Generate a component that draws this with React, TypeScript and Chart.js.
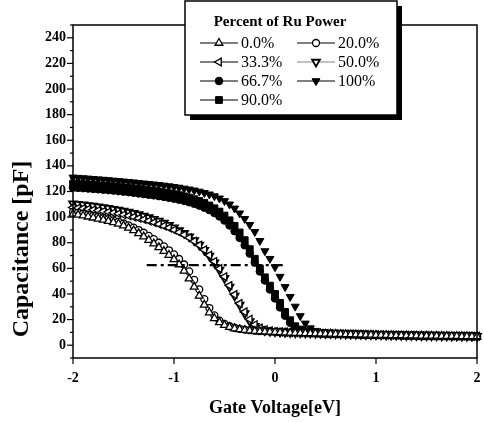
import React, { useEffect, useRef } from "react";
import { Chart, registerables } from "chart.js";

Chart.register(...registerables);

const GATE_V = [-2,-1.95,-1.9,-1.85,-1.8,-1.75,-1.7,-1.65,-1.6,-1.55,-1.5,-1.45,-1.4,-1.35,-1.3,-1.25,-1.2,-1.15,-1.1,-1.05,-1,-0.95,-0.9,-0.85,-0.8,-0.75,-0.7,-0.65,-0.6,-0.55,-0.5,-0.45,-0.4,-0.35,-0.3,-0.25,-0.2,-0.15,-0.1,-0.05,0,0.05,0.1,0.15,0.2,0.25,0.3,0.35,0.4,0.45,0.5,0.55,0.6,0.65,0.7,0.75,0.8,0.85,0.9,0.95,1,1.05,1.1,1.15,1.2,1.25,1.3,1.35,1.4,1.45,1.5,1.55,1.6,1.65,1.7,1.75,1.8,1.85,1.9,1.95,2];

const CAP_0 = [102.5,101.8,101.1,100.3,99.5,98.7,97.8,96.9,95.9,94.8,93.3,91.6,89.6,87.3,84.8,82.1,79.3,76.4,73.5,70.4,67,63,58,52,45.5,38.5,31.5,25.5,21,17.8,15.6,14.1,13,12.3,11.7,11.3,11,10.7,10.5,10.3,10.1,9.9,9.8,9.6,9.5,9.4,9.3,9.2,9.1,9.0,8.9,8.8,8.7,8.6,8.5,8.4,8.3,8.2,8.1,8.0,7.9,7.8,7.8,7.7,7.6,7.6,7.5,7.4,7.4,7.3,7.3,7.2,7.2,7.1,7.1,7.0,7.0,6.9,6.9,6.8,6.8];
const CAP_20 = [104,103.3,102.6,101.8,101,100.2,99.3,98.4,97.4,96.3,95,93.5,91.8,89.9,87.8,85.4,82.8,80,77.1,74.1,70.9,67.3,63,57.6,51,43.6,36,29,23.3,19.2,16.6,14.8,13.6,12.8,12.2,11.7,11.3,11,10.8,10.6,10.4,10.2,10.1,9.9,9.8,9.7,9.6,9.5,9.4,9.3,9.2,9.1,9.0,8.9,8.8,8.7,8.6,8.5,8.4,8.3,8.2,8.1,8.0,7.9,7.9,7.8,7.7,7.7,7.6,7.5,7.5,7.4,7.4,7.3,7.3,7.2,7.2,7.1,7.1,7.0,7.0];
const CAP_333 = [107.5,107.1,106.7,106.2,105.7,105.2,104.6,104,103.3,102.6,101.8,101,100.1,99.1,98.1,97,95.8,94.5,93.1,91.6,90,88.2,86.2,83.9,81.2,78.1,74.5,70.3,65.4,59.8,53.5,46.6,39.5,32.5,26,20.3,16,13.4,12,11.2,10.7,10.4,10.2,10,9.8,9.7,9.6,9.5,9.4,9.3,9.2,9.1,9.0,8.9,8.8,8.7,8.6,8.5,8.4,8.3,8.2,8.1,8.0,7.9,7.9,7.8,7.7,7.7,7.6,7.5,7.5,7.4,7.4,7.3,7.3,7.2,7.2,7.1,7.1,7.0,7.0];
const CAP_50 = [110.5,110.1,109.7,109.2,108.7,108.2,107.6,107,106.3,105.6,104.8,104,103.1,102.1,101,99.8,98.5,97,95.4,93.7,91.8,89.7,87.4,84.8,81.8,78.3,74.3,69.7,64.5,58.7,52.3,45.5,38.5,31.5,24.8,18.6,14.8,12.7,11.6,11,10.6,10.3,10.1,9.9,9.8,9.7,9.6,9.5,9.4,9.3,9.2,9.1,9.0,8.9,8.8,8.7,8.6,8.5,8.4,8.3,8.2,8.1,8.0,7.9,7.9,7.8,7.7,7.7,7.6,7.5,7.5,7.4,7.4,7.3,7.3,7.2,7.2,7.1,7.1,7.0,7.0];
const CAP_667 = [123,122.8,122.6,122.3,122,121.7,121.4,121.1,120.7,120.3,119.9,119.5,119,118.5,118,117.5,117,116.4,115.8,115.1,114.4,113.6,112.7,111.6,110.4,109,107.4,105.5,103.2,100.5,97.3,93.5,89,83.8,78,71.5,64.5,57.5,50.5,43.5,36.5,29.5,23,17.5,13.8,11.8,10.6,10,9.6,9.3,9.1,8.9,8.8,8.7,8.6,8.5,8.4,8.3,8.2,8.1,8.0,7.9,7.9,7.8,7.7,7.7,7.6,7.5,7.5,7.4,7.4,7.3,7.3,7.2,7.2,7.1,7.1,7.0,7.0,6.9,6.9];
const CAP_100 = [131,130.8,130.5,130.2,129.9,129.6,129.3,129,128.6,128.3,127.9,127.6,127.2,126.8,126.4,126,125.6,125.2,124.7,124.2,123.7,123.1,122.4,121.7,120.9,120,119,117.8,116.4,114.7,112.6,110,106.8,103,98.7,94,88.5,81.5,73.5,67.5,61,53.5,45.5,37.8,30.2,22.8,17,13.3,11.3,10.2,9.6,9.3,9.1,8.9,8.8,8.7,8.6,8.5,8.4,8.3,8.2,8.1,8.0,7.9,7.9,7.8,7.7,7.7,7.6,7.5,7.5,7.4,7.4,7.3,7.3,7.2,7.2,7.1,7.1,7.0,7.0];
const CAP_90 = [126,125.8,125.6,125.3,125,124.7,124.4,124.1,123.8,123.4,123,122.6,122.2,121.8,121.3,120.8,120.3,119.8,119.2,118.6,117.9,117.1,116.2,115.2,114,112.6,111,109.1,106.9,104.3,101.2,97.5,93.2,88,82,75,67.5,60,53,46.5,40,33,26,19.5,14.8,12.2,10.8,10,9.6,9.3,9.1,8.9,8.8,8.7,8.6,8.5,8.4,8.3,8.2,8.1,8.0,7.9,7.9,7.8,7.7,7.7,7.6,7.5,7.5,7.4,7.4,7.3,7.3,7.2,7.2,7.1,7.1,7.0,7.0,6.9,6.9];

const SERIES_LABELS = ["0.0%", "20.0%", "33.3%", "50.0%", "66.7%", "100%", "90.0%"];
const REF_LINE_X = [-1.27, 0.08];
const REF_LINE_Y = [62.5, 62.5];
const Y_TICK_LABELS = [0, 20, 40, 60, 80, 100, 120, 140, 160, 180, 200, 220, 240];
const X_TITLE = "Gate Voltage[eV]";
const Y_TITLE = "Capacitance [pF]";
const LEGEND_TITLE = "Percent of Ru Power";

const SERIES_VALUES = [CAP_0, CAP_20, CAP_333, CAP_50, CAP_667, CAP_100, CAP_90];

type Sty = { shape: string; rot: number; r: number; fill: string; stroke: string; lw: number; line: string };
const STYLES: Sty[] = [
  { shape: "triangle", rot: 0, r: 4.5, fill: "#fff", stroke: "#000", lw: 1.3, line: "#000" },
  { shape: "circle", rot: 0, r: 3.5, fill: "#fff", stroke: "#000", lw: 1.3, line: "#000" },
  { shape: "triangle", rot: -90, r: 4.5, fill: "#fff", stroke: "#000", lw: 1.3, line: "#000" },
  { shape: "triangle", rot: 180, r: 4.5, fill: "#fff", stroke: "#000", lw: 1.8, line: "#888" },
  { shape: "circle", rot: 0, r: 3.8, fill: "#000", stroke: "#000", lw: 1, line: "#000" },
  { shape: "triangle", rot: 180, r: 4.6, fill: "#000", stroke: "#000", lw: 1, line: "#000" },
  { shape: "rect", rot: 0, r: 4.8, fill: "#000", stroke: "#000", lw: 1, line: "#000" },
];

const SERIF = "'Liberation Serif', 'Times New Roman', serif";

function drawMarker(ctx: CanvasRenderingContext2D, s: Sty, x: number, y: number) {
  ctx.save();
  ctx.translate(x, y);
  ctx.rotate((s.rot * Math.PI) / 180);
  ctx.beginPath();
  if (s.shape === "triangle") {
    for (let k = 0; k < 3; k++) {
      const a = (k * 2 * Math.PI) / 3;
      const px = Math.sin(a) * s.r;
      const py = -Math.cos(a) * s.r;
      if (k === 0) ctx.moveTo(px, py);
      else ctx.lineTo(px, py);
    }
    ctx.closePath();
  } else if (s.shape === "circle") {
    ctx.arc(0, 0, s.r, 0, Math.PI * 2);
  } else {
    const h = s.r * Math.SQRT1_2;
    ctx.rect(-h, -h, 2 * h, 2 * h);
  }
  ctx.fillStyle = s.fill;
  ctx.fill();
  ctx.lineWidth = s.lw;
  ctx.strokeStyle = s.stroke;
  ctx.stroke();
  ctx.restore();
}

const decorPlugin = {
  id: "decor",
  afterDraw(chart: any) {
    const { ctx, chartArea: a, scales } = chart;
    ctx.save();
    ctx.strokeStyle = "#000";
    ctx.lineWidth = 1.5;
    ctx.strokeRect(a.left, a.top, a.right - a.left, a.bottom - a.top);
    ctx.lineWidth = 1.2;
    const ys = scales.y;
    ys.ticks.forEach((t: any) => {
      const p = ys.getPixelForValue(t.value);
      const len = t.value % 20 === 0 ? 6 : 3;
      ctx.beginPath();
      ctx.moveTo(a.left - len, p);
      ctx.lineTo(a.left, p);
      ctx.stroke();
    });
    const xs = scales.x;
    xs.ticks.forEach((t: any) => {
      const p = xs.getPixelForValue(t.value);
      ctx.beginPath();
      ctx.moveTo(p, a.bottom);
      ctx.lineTo(p, a.bottom + 6);
      ctx.stroke();
    });

    // y-axis title
    ctx.save();
    ctx.translate(22, 249);
    ctx.rotate(-Math.PI / 2);
    ctx.font = `bold 24px ${SERIF}`;
    ctx.fillStyle = "#000";
    ctx.textAlign = "center";
    ctx.textBaseline = "middle";
    ctx.fillText(Y_TITLE, 0, 0);
    ctx.restore();

    // legend box
    const bx = 185, by = 1, bw = 212, bh = 114;
    ctx.fillStyle = "#000";
    ctx.fillRect(bx + 5, by + 5, bw, bh);
    ctx.fillStyle = "#fff";
    ctx.fillRect(bx, by, bw, bh);
    ctx.lineWidth = 1.5;
    ctx.strokeRect(bx, by, bw, bh);

    ctx.fillStyle = "#000";
    ctx.font = `bold 15px ${SERIF}`;
    ctx.textAlign = "center";
    ctx.textBaseline = "middle";
    ctx.fillText(LEGEND_TITLE, 280, 22);

    const cols = [200, 297];
    const rows = [43, 62, 81, 100];
    ctx.font = `16px ${SERIF}`;
    ctx.textAlign = "left";
    SERIES_LABELS.forEach((lab, i) => {
      const cx = cols[i % 2];
      const cy = rows[Math.floor(i / 2)];
      const s = STYLES[i];
      ctx.strokeStyle = s.line;
      ctx.lineWidth = 1.2;
      ctx.beginPath();
      ctx.moveTo(cx, cy);
      ctx.lineTo(cx + 38, cy);
      ctx.stroke();
      drawMarker(ctx, s, cx + 19, cy);
      ctx.fillStyle = "#000";
      ctx.fillText(lab, cx + 41, cy + 1);
    });
    ctx.restore();
  },
};

export default function App() {
  const ref = useRef<HTMLCanvasElement | null>(null);
  useEffect(() => {
    if (!ref.current) return;
    const datasets: any[] = [
      {
        label: "ref",
        data: REF_LINE_X.map((x, i) => ({ x, y: REF_LINE_Y[i] })),
        showLine: true,
        borderColor: "#000",
        borderWidth: 2.2,
        borderDash: [10, 4, 3, 4],
        pointRadius: 0,
        clip: false,
      },
    ];
    SERIES_VALUES.forEach((vals, i) => {
      const s = STYLES[i];
      datasets.push({
        label: SERIES_LABELS[i],
        data: GATE_V.map((x, k) => ({ x, y: vals[k] })),
        showLine: false,
        pointStyle: s.shape,
        rotation: s.rot,
        pointRadius: s.r,
        pointBackgroundColor: s.fill,
        pointBorderColor: s.stroke,
        pointBorderWidth: s.lw,
        clip: false,
      });
    });
    const chart = new Chart(ref.current, {
      type: "scatter",
      data: { datasets },
      options: {
        animation: false,
        responsive: false,
        devicePixelRatio: 1,
        layout: { autoPadding: false, padding: { top: 25, right: 7, left: 0, bottom: 0 } },
        plugins: { legend: { display: false }, tooltip: { enabled: false } },
        font: { family: SERIF },
        scales: {
          x: {
            type: "linear",
            min: -2,
            max: 2,
            grid: { display: false, drawTicks: false },
            border: { display: false },
            ticks: {
              stepSize: 1,
              padding: 12,
              color: "#000",
              font: { family: SERIF, size: 14, weight: "bold" },
            },
            title: {
              display: true,
              text: X_TITLE,
              color: "#000",
              font: { family: SERIF, size: 18, weight: "bold" },
              padding: { top: 0, bottom: 3 },
            },
            afterFit: (s: any) => {
              s.height = 64;
              s.paddingLeft = 0;
              s.paddingRight = 0;
            },
          },
          y: {
            type: "linear",
            min: -10,
            max: 250,
            grid: { display: false, drawTicks: false },
            border: { display: false },
            ticks: {
              stepSize: 10,
              autoSkip: false,
              padding: 7,
              color: "#000",
              font: { family: SERIF, size: 14, weight: "bold" },
              callback: (v: any) => (Y_TICK_LABELS.includes(Number(v)) ? String(v) : ""),
            },
            afterFit: (s: any) => {
              s.width = 73;
              s.paddingTop = 0;
              s.paddingBottom = 0;
            },
          },
        },
      } as any,
      plugins: [decorPlugin],
    });
    return () => chart.destroy();
  }, []);
  return (
    <div style={{ position: "absolute", left: 0, top: 0, width: 484, height: 422, background: "#fff" }}>
      <canvas ref={ref} width={484} height={422} style={{ display: "block" }} />
    </div>
  );
}
